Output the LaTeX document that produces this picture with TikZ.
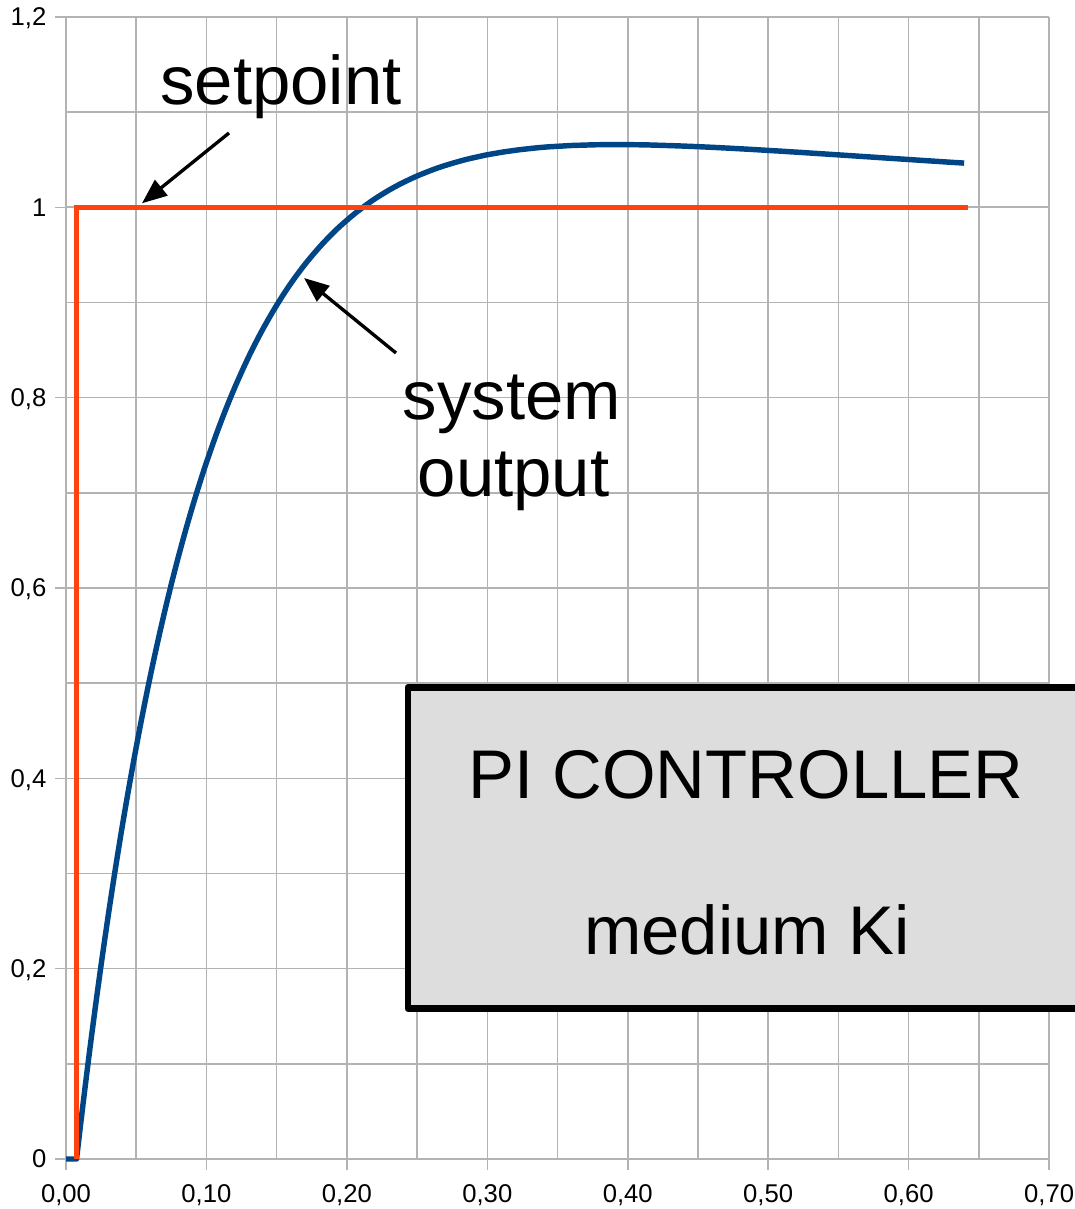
\documentclass[tikz,border=0pt]{standalone}
\usepackage{fontspec}
\setmainfont{Liberation Sans}
\usetikzlibrary{arrows.meta}

\definecolor{seriesblue}{HTML}{004586}
\definecolor{seriesred}{HTML}{FF420E}
\definecolor{gridgray}{HTML}{B3B3B3}
\definecolor{boxgray}{HTML}{DDDDDD}

% step response of the closed loop (time shifted by the step instant)
\newcommand{\stepdelay}{0.0075}

\begin{document}
\begin{tikzpicture}[x=14.043cm, y=9.517cm,
  gridline/.style={draw=gridgray, line width=0.45pt},
  curve/.style={line width=1.55pt},
  note/.style={font=\fontsize{19.6}{22}\selectfont, inner sep=0pt, anchor=base},
  pointer/.style={-{Triangle[length=7.1pt,width=5.6pt]}, line width=0.95pt},
  ticklab/.style={font=\fontsize{7.3}{8}\selectfont, inner sep=0pt, text depth=0pt}]
  \useasboundingbox (-0.66cm,-0.50cm) rectangle (10.09cm,11.59cm);
  \pgfkeys{/pgf/number format/assume math mode=true}

  % Draw grid
  \foreach \i in {0,...,14}
    \draw[gridline] (\i*0.05,0) -- (\i*0.05,1.2);
  \foreach \j in {0,...,12}
    \draw[gridline] (0,\j*0.1) -- (0.7,\j*0.1);

  % Draw ticks and their labels
  \foreach \i [evaluate=\i as \xv using \i*0.1] in {0,...,7} {
    \draw[gridline] (\xv,0) -- ++(0,-0.11cm);
    \node[ticklab] (xlab\i) at (\xv,-0.0363)
      {\pgfmathprintnumber[fixed,fixed zerofill,precision=2,use comma]{\xv}};
  }
  \foreach \j [evaluate=\j as \yv using \j*0.2] in {0,...,6} {
    \draw[gridline] (0,\yv) -- ++(-0.11cm,0);
    \node[ticklab, anchor=east, xshift=-0.19cm] (ylab\j) at (0,\yv)
      {\pgfmathprintnumber[use comma]{\yv}};
  }

  % Draw system output and setpoint
  \draw[curve, seriesblue, line join=round] (0,0) -- (\stepdelay,0)
    -- plot[domain=\stepdelay:0.6397, samples=140, smooth]
    (\x, {1 - 1.193*exp(-11.15*(\x-\stepdelay)) + 0.193*exp(-2.22*(\x-\stepdelay))});
  \draw[curve, seriesred] (\stepdelay,0) -- (\stepdelay,1) -- (0.642,1);

  % Draw labels and pointers
  \node[note] (setpoint) at (0.1531,1.1075) {setpoint};
  \coordinate (setpoint tail) at (0.1161,1.0781);
  \coordinate (setpoint tip) at (0.0541,1.0042);
  \draw[pointer] (setpoint tail) -- (setpoint tip);

  \node[note] (system) at (0.3176,0.7765) {system};
  \node[note] (output) at (0.3187,0.6956) {output};
  \coordinate (output tail) at (0.2350,0.8469);
  \coordinate (output tip) at (0.1695,0.9257);
  \draw[pointer] (output tail) -- (output tip);

  % Draw controller box
  \node[draw, line width=1.9pt, line join=round, fill=boxgray, inner sep=0pt,
    minimum width=6.765cm, minimum height=3.21cm] (ctrlbox) at (0.4844,0.3268) {};
  \node[note] (ctrltitle) at (0.4842,0.3793) {PI CONTROLLER};
  \node[note] (ctrlgain) at (0.4849,0.2144) {medium Ki};
\end{tikzpicture}
\end{document}
